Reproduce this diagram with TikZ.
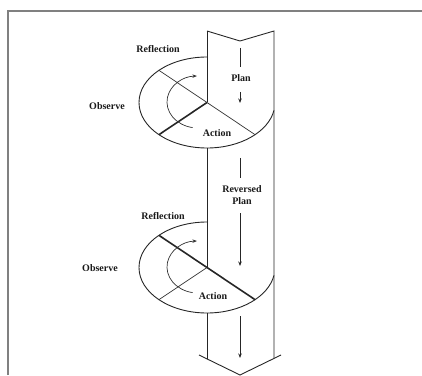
\documentclass[tikz,border=0pt]{standalone}
\usepackage{fontspec}
\setmainfont{Liberation Serif}
\usetikzlibrary{arrows.meta,calc}
\begin{document}
\begin{tikzpicture}[x=1pt,y=1pt,
  ln/.style={line width=0.9pt,draw=black!85},
  thinln/.style={line width=0.7pt,draw=black!80},
  thickln/.style={line width=1.6pt,draw=black!85},
  lbl/.style={font=\fontsize{10}{11}\selectfont\bfseries,inner sep=0pt,text=black!90},
  tip/.style={-{Stealth[length=4.5pt,width=3.5pt]}}]
\useasboundingbox (0,0) rectangle (422,375);
% frame
\draw[line width=1.5pt,draw=black!50] (8,0) -- (8,364) -- (422,364);
% column coordinates
\coordinate (lt) at (207,344);
\coordinate (nt) at (240,334);
\coordinate (rt) at (274,344);
\coordinate (uc) at (207,272.5);
\coordinate (ub) at (207,227);
\coordinate (lc) at (207,107.5);
\coordinate (lb) at (207,62);
\coordinate (lbe) at (207,16);
\coordinate (rbe) at (274,17);
\coordinate (lw) at (199,20);
\coordinate (rw) at (281,20);
\coordinate (tipb) at (240,0);
% column
\draw[ln] (lt) -- (nt) -- (rt) -- (rbe);
\draw[ln] (lt) -- (uc);
\draw[ln] (ub) -- (lc);
\draw[ln] (lb) -- (lbe);
\draw[ln] (lw) -- (tipb) -- (rw);
% upper disc
\draw[ln] (uc) ++(0,45.5) arc[start angle=90,end angle=350,x radius=68,y radius=45.5];
\draw[thinln] ($(uc)+(-48.1,32.2)$) -- ($(uc)+(48.1,-32.2)$);
\draw[thickln] (uc) -- ($(uc)+(-48.1,-32.2)$);
\draw[thinln,tip] (192.6,247.4) arc[start angle=260,end angle=92,x radius=31,y radius=26];
% lower disc
\draw[ln] (lc) ++(0,45.5) arc[start angle=90,end angle=350,x radius=68,y radius=45.5];
\draw[thickln] ($(lc)+(-48.1,32.2)$) -- ($(lc)+(48.1,-32.2)$);
\draw[thinln] (lc) -- ($(lc)+(-48.1,-32.2)$);
\draw[thinln,tip] (192.6,82.4) arc[start angle=260,end angle=92,x radius=31,y radius=26];
% column arrows
\coordinate (p1a) at (240,327); \coordinate (p1b) at (240,308);
\coordinate (p2a) at (240,283); \coordinate (p2b) at (240,272);
\coordinate (p3a) at (240,217); \coordinate (p3b) at (240,197);
\coordinate (p4a) at (240,162); \coordinate (p4b) at (240,109);
\coordinate (p5a) at (240,59);  \coordinate (p5b) at (240,17);
\draw[ln] (p1a) -- (p1b);
\draw[ln,tip] (p2a) -- (p2b);
\draw[ln] (p3a) -- (p3b);
\draw[ln,tip] (p4a) -- (p4b);
\draw[ln,tip] (p5a) -- (p5b);
% labels
\node[lbl] (refl1) at (158,326) {Reflection};
\node[lbl] (obs1) at (107,269) {Observe};
\node[lbl] (plan1) at (241,297) {Plan};
\node[lbl] (act1) at (217,242) {Action};
\node[lbl,align=center] (rplan) at (242,179.5) {Reversed\\[1pt]Plan};
\node[lbl] (refl2) at (163,159) {Reflection};
\node[lbl] (obs2) at (100,107) {Observe};
\node[lbl] (act2) at (213,79) {Action};
\end{tikzpicture}
\end{document}
